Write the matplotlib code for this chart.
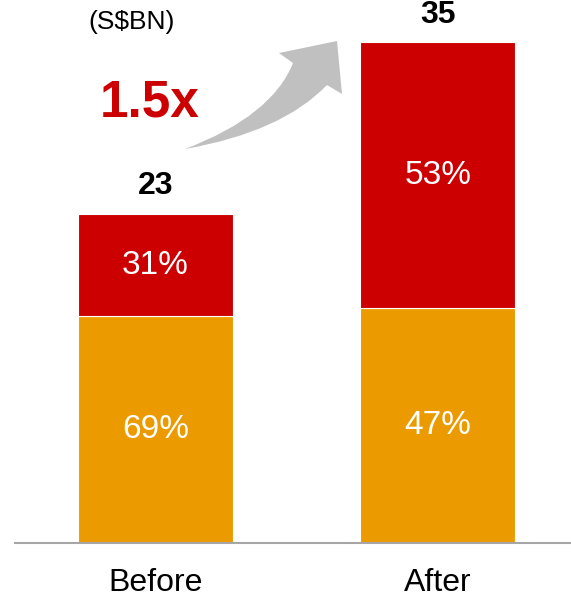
import numpy as np
import matplotlib.pyplot as plt
from matplotlib.path import Path
from matplotlib.patches import PathPatch

plt.rcParams['font.family'] = ['Liberation Sans', 'DejaVu Sans']

categories = ['Before', 'After']
totals = [23, 35]
bottom_pct = [69, 47]   # orange part
top_pct = [31, 53]      # red part
unit_label = '(S$BN)'
growth_label = '1.5x'

W, H = 571, 601
fig = plt.figure(figsize=(W / 100, H / 100), dpi=100)

# axes placed in pixel terms: left 15px, right edge, baseline at 543px
ax = fig.add_axes([15 / W, 1 - 543 / H, 556 / W, 523 / H])

x = np.arange(len(categories))
bottom_vals = [t * p / 100 for t, p in zip(totals, bottom_pct)]
top_vals = [t * p / 100 for t, p in zip(totals, top_pct)]

orange = '#EB9B00'
red = '#CC0000'
bw = 0.549
ax.bar(x, bottom_vals, width=bw, color=orange, edgecolor='white', linewidth=0.8)
ax.bar(x, top_vals, width=bw, bottom=bottom_vals, color=red, edgecolor='white', linewidth=0.8)

for i in range(len(categories)):
    ax.text(x[i], bottom_vals[i] / 2, f'{bottom_pct[i]}%', ha='center', va='center',
            color='white', fontsize=24)
    ax.text(x[i], bottom_vals[i] + top_vals[i] / 2, f'{top_pct[i]}%', ha='center', va='center',
            color='white', fontsize=24)
    ax.text(x[i], totals[i] + 1.95, str(totals[i]), ha='center', va='center',
            color='black', fontsize=23, fontweight='bold')

ax.set_xlim(-0.497, 1.471)
ax.set_ylim(0, 36.57)
ax.set_xticks(x)
ax.set_xticklabels(categories, fontsize=23)
ax.tick_params(axis='x', length=0, pad=18)
ax.set_yticks([])
for s in ['top', 'left', 'right']:
    ax.spines[s].set_visible(False)
ax.spines['bottom'].set_color('#A6A6A6')
ax.spines['bottom'].set_linewidth(1.5)

fig.text(132 / W, 1 - 22 / H, unit_label, ha='center', va='center', fontsize=19)
fig.text(150 / W, 1 - 103 / H, growth_label, ha='center', va='center', fontsize=37,
         fontweight='bold', color=red)

# curved growth arrow (pixel outline -> figure fraction)
pts = [(185, 149), (272, 116), (293, 63), (279, 53), (337, 41), (342, 94),
       (327, 85), (282, 132), (185, 149)]
codes = [Path.MOVETO, Path.CURVE3, Path.CURVE3, Path.LINETO, Path.LINETO, Path.LINETO,
         Path.LINETO, Path.CURVE3, Path.CURVE3]
verts = [(px / W, 1 - py / H) for px, py in pts]
fig.patches.append(PathPatch(Path(verts, codes), transform=fig.transFigure,
                             facecolor='#C0C0C0', edgecolor='none'))

fig.savefig('out.png', dpi=100)
